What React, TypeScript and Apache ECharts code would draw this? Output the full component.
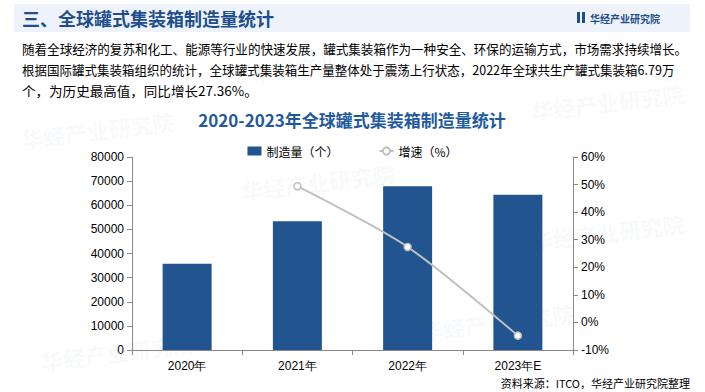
import React, { useEffect, useRef } from "react";
import * as echarts from "echarts";

const categories = ["2020年", "2021年", "2022年", "2023年E"];
const production = [35700, 53330, 67900, 64400];
const growth: (number | string)[] = ["-", 49.4, 27.36, -4.8];

const headerTitle = "三、全球罐式集装箱制造量统计";
const brand = "华经产业研究院";
const paragraph = [
  "随着全球经济的复苏和化工、能源等行业的快速发展，罐式集装箱作为一种安全、环保的运输方式，市场需求持续增长。",
  "根据国际罐式集装箱组织的统计，全球罐式集装箱生产量整体处于震荡上行状态，2022年全球共生产罐式集装箱6.79万",
  "个，为历史最高值，同比增长27.36%。",
];
const chartTitle = "2020-2023年全球罐式集装箱制造量统计";
const source = "资料来源：ITCO，华经产业研究院整理";

const CJK = "'Noto Sans CJK SC', 'Microsoft YaHei', sans-serif";
const NUM = "'Liberation Sans', Arial, sans-serif";

function measure(text: string, font: string): number {
  const c = document.createElement("canvas").getContext("2d");
  if (!c) return 0;
  c.font = font;
  return c.measureText(text).width;
}

export default function App() {
  const ref = useRef<HTMLDivElement>(null);
  useEffect(() => {
    if (!ref.current) return;
    const chart = echarts.init(ref.current, null, { renderer: "svg" });
    const watermarks = [
      [250, 62], [20, 128], [240, 180], [420, 320], [530, 100], [530, 230], [40, 350],
    ].map(([x, y]) => ({
      type: "text",
      x,
      y,
      rotation: 0.12,
      silent: true,
      z: -10,
      style: {
        text: brand,
        font: `bold 22px ${CJK}`,
        fill: "rgba(200,210,225,0.12)",
      },
    }));
    const paraFont = `13px ${CJK}`;
    const targets = [666, 653, 236];
    const paraItems = paragraph.map((t, i) => {
      const w = measure(t, paraFont);
      const s = w > 0 ? targets[i] / w : 1;
      return {
        type: "text",
        x: 22,
        y: 48 + i * 21.5,
        scaleX: Math.min(1.1, Math.max(0.8, s)),
        style: {
          text: t,
          font: paraFont,
          fill: "#000000",
          verticalAlign: "middle",
        },
      };
    });
    chart.setOption({
      animation: false,
      backgroundColor: "#ffffff",
      graphic: [
        ...watermarks,
        {
          type: "rect",
          shape: { x: 14, y: 4, width: 676, height: 28 },
          style: { fill: "#eef3fb" },
          z: -5,
        },
        {
          type: "text",
          x: 22,
          y: 18,
          style: {
            text: headerTitle,
            font: `bold 18px ${CJK}`,
            fill: "#1f4e8c",
            verticalAlign: "middle",
          },
        },
        {
          type: "rect",
          shape: { x: 577, y: 12, width: 3, height: 11 },
          style: { fill: "#1f4e8c" },
        },
        {
          type: "rect",
          shape: { x: 582, y: 12, width: 3, height: 11 },
          style: { fill: "#1f4e8c" },
        },
        {
          type: "text",
          x: 590,
          y: 18,
          scaleX: 1.0,
          style: {
            text: brand,
            font: `bold 10px ${CJK}`,
            fill: "#1f4e8c",
            verticalAlign: "middle",
          },
        },
        ...paraItems,
        {
          type: "text",
          x: 352,
          y: 119,
          style: {
            text: chartTitle,
            font: `bold 17px ${CJK}`,
            fill: "#1f5aa0",
            align: "center",
            verticalAlign: "middle",
          },
        },
        {
          type: "text",
          x: 690,
          y: 383,
          style: {
            text: source,
            font: `11px ${CJK}`,
            fill: "#000000",
            align: "right",
            verticalAlign: "middle",
          },
        },
      ],
      legend: {
        top: 140,
        left: "center",
        itemGap: 40,
        itemWidth: 14,
        itemHeight: 9,
        textStyle: { fontFamily: CJK, fontSize: 12, color: "#000" },
        data: [
          { name: "制造量（个）", icon: "rect" },
          { name: "增速（%）" },
        ],
      },
      grid: { left: 132, right: 132, top: 157, bottom: 42, containLabel: false },
      xAxis: {
        type: "category",
        data: categories,
        axisLine: { lineStyle: { color: "#898989" } },
        axisTick: { show: true, lineStyle: { color: "#898989" } },
        axisLabel: { color: "#000", fontFamily: NUM, fontSize: 12, margin: 10 },
      },
      yAxis: [
        {
          type: "value",
          min: 0,
          max: 80000,
          interval: 10000,
          splitLine: { show: false },
          axisLine: { show: true, lineStyle: { color: "#898989" } },
          axisTick: { show: true, lineStyle: { color: "#898989" } },
          axisLabel: {
            color: "#000",
            fontFamily: NUM,
            fontSize: 12,
            margin: 8,
            formatter: (v: number) => String(v),
          },
        },
        {
          type: "value",
          min: -10,
          max: 60,
          interval: 10,
          position: "right",
          splitLine: { show: false },
          axisLine: { show: true, lineStyle: { color: "#898989" } },
          axisTick: { show: true, lineStyle: { color: "#898989" } },
          axisLabel: {
            color: "#000",
            fontFamily: NUM,
            fontSize: 12,
            margin: 8,
            formatter: "{value}%",
          },
        },
      ],
      series: [
        {
          name: "制造量（个）",
          type: "bar",
          data: production,
          barWidth: 49,
          itemStyle: { color: "#22548f" },
        },
        {
          name: "增速（%）",
          type: "line",
          yAxisIndex: 1,
          data: growth,
          smooth: 0.25,
          symbol: "circle",
          symbolSize: 7,
          lineStyle: { color: "#c0c0c0", width: 2 },
          itemStyle: { color: "#ffffff", borderColor: "#c0c0c0", borderWidth: 1.5 },
        },
      ],
    });
    return () => chart.dispose();
  }, []);
  return (
    <div
      ref={ref}
      style={{ position: "fixed", left: 0, top: 0, width: 705, height: 392 }}
    />
  );
}
